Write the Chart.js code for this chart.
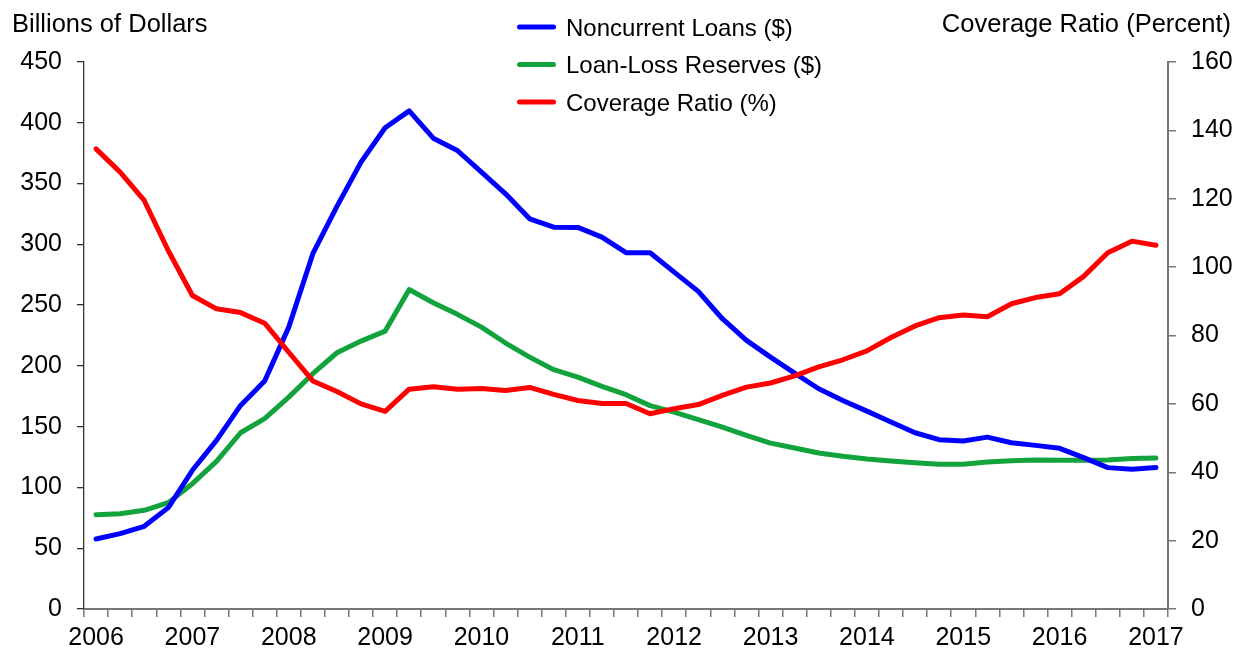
<!DOCTYPE html>
<html>
<head>
<meta charset="utf-8">
<script src="https://cdn.jsdelivr.net/npm/chart.js@4.4.1/dist/chart.umd.min.js"></script>
<style>
  html, body { margin: 0; padding: 0; background: #fff; }
  canvas { display: block; }
</style>
</head>
<body>
<canvas id="coverageChart" width="1238" height="650"></canvas>
<script>
// quarterly, 2006Q1 .. 2017Q1
const quarters = [];
for (let y = 2006; y <= 2017; y++) {
    for (let q = 1; q <= 4; q++) {
        if (y === 2017 && q > 1) break;
        quarters.push(y + 'Q' + q);
    }
}

// billions of dollars
const noncurrentLoans = [57.6, 62.0, 68.0, 83.4, 114.1, 138.7, 167.5, 187.5, 231.9, 292.3, 331.2, 367.6, 395.9,
    409.8, 387.3, 377.2, 359.4, 341.6, 321.0, 314.1, 313.9, 305.9, 293.1, 293.1, 277.1, 261.3, 238.8, 221.0, 207.2, 194.1,
    181.2, 171.6, 162.8, 153.8, 145.0, 139.3, 138.2, 141.4, 136.8, 134.6, 132.2, 124.5, 116.3, 114.9, 116.5];

const lossReserves = [77.6, 78.4, 81.2, 87.5, 103.1, 121.5, 145.0, 156.6, 174.3, 193.6, 210.8, 220.4, 228.6,
    262.8, 252.0, 242.4, 231.9, 218.8, 207.2, 196.9, 190.8, 183.1, 176.3, 167.3, 162.0, 155.8, 149.7, 142.8, 136.5, 132.5,
    128.3, 125.6, 123.4, 121.7, 120.4, 119.0, 119.0, 120.9, 122.0, 122.5, 122.3, 122.3, 122.5, 123.9, 124.2];

// percent
const coverageRatio = [134.6, 127.8, 119.5, 104.8, 91.7, 87.8, 86.7, 83.6, 75.1, 66.7, 63.6, 60.0, 57.8,
    64.3, 65.0, 64.3, 64.5, 63.9, 64.8, 62.8, 61.0, 60.1, 60.1, 57.1, 58.6, 59.8, 62.5, 64.9, 66.1, 68.2,
    70.8, 72.9, 75.5, 79.4, 82.8, 85.2, 86.0, 85.5, 89.3, 91.1, 92.2, 97.3, 104.2, 107.6, 106.4];

const seriesNames = ['Noncurrent Loans ($)', 'Loan-Loss Reserves ($)', 'Coverage Ratio (%)'];
const leftTitle = 'Billions of Dollars';
const rightTitle = 'Coverage Ratio (Percent)';

const FONT = '"Liberation Sans", Arial, sans-serif';
const tickFont = { family: FONT, size: 25 };

// titles and the stacked legend at the top
const topTexts = {
    id: 'topTexts',
    afterDraw(chart) {
        const c = chart.ctx;
        c.save();
        c.fillStyle = '#000';
        c.textBaseline = 'alphabetic';
        c.font = '25.5px ' + FONT;
        c.textAlign = 'left';
        c.fillText(leftTitle, 12, 32);
        c.textAlign = 'right';
        c.fillText(rightTitle, 1231, 32);

        c.font = '24px ' + FONT;
        c.textAlign = 'left';
        chart.data.datasets.forEach((ds, i) => {
            const y = 27 + i * 37.5;
            c.strokeStyle = ds.borderColor;
            c.lineWidth = 5;
            c.lineCap = 'round';
            c.beginPath();
            c.moveTo(519.5, y);
            c.lineTo(553.5, y);
            c.stroke();
            c.fillText(ds.label, 566, y + 8.6);
        });
        c.restore();
    }
};

const ctx = document.getElementById('coverageChart').getContext('2d');
const coverageChart = new Chart(ctx, {
    type: 'line',
    data: {
        labels: quarters,
        datasets: [
            { label: seriesNames[0], data: noncurrentLoans, borderColor: '#0000ff', yAxisID: 'y', order: 1 },
            { label: seriesNames[1], data: lossReserves, borderColor: '#12a33c', yAxisID: 'y', order: 2 },
            { label: seriesNames[2], data: coverageRatio, borderColor: '#ff0000', yAxisID: 'y1', order: 0 }
        ]
    },
    options: {
        responsive: false,
        animation: false,
        layout: { padding: { top: 62, left: 0, right: 0, bottom: 0 } },
        elements: {
            point: { radius: 0, hoverRadius: 0 },
            line: { borderWidth: 5, tension: 0, borderJoinStyle: 'round', borderCapStyle: 'round', fill: false }
        },
        plugins: {
            legend: { display: false },
            tooltip: { enabled: false }
        },
        scales: {
            x: {
                offset: true,
                grid: { offset: true, drawOnChartArea: false, drawTicks: true, tickLength: 8, color: '#777', lineWidth: 1.5 },
                border: { display: true, color: '#777', width: 2 },
                ticks: {
                    autoSkip: false,
                    maxRotation: 0,
                    padding: 6,
                    color: '#000',
                    font: tickFont,
                    callback: (v, i) => (i % 4 === 0 ? quarters[i].slice(0, 4) : '')
                },
                afterFit(scale) { scale.height = 41; }
            },
            y: {
                position: 'left',
                min: 0,
                max: 450,
                grid: { drawOnChartArea: false, drawTicks: true, tickLength: 7, color: '#333', lineWidth: 1.3 },
                border: { display: true, color: '#333', width: 1.3 },
                ticks: { stepSize: 50, padding: 15, color: '#000', font: tickFont },
                afterFit(scale) { scale.width = 84; }
            },
            y1: {
                position: 'right',
                min: 0,
                max: 160,
                grid: { drawOnChartArea: false, drawTicks: true, tickLength: 8, color: '#777', lineWidth: 1.5 },
                border: { display: true, color: '#777', width: 2 },
                ticks: { stepSize: 20, padding: 15, color: '#000', font: tickFont },
                afterFit(scale) { scale.width = 70; }
            }
        }
    },
    plugins: [topTexts]
});
</script>
</body>
</html>
